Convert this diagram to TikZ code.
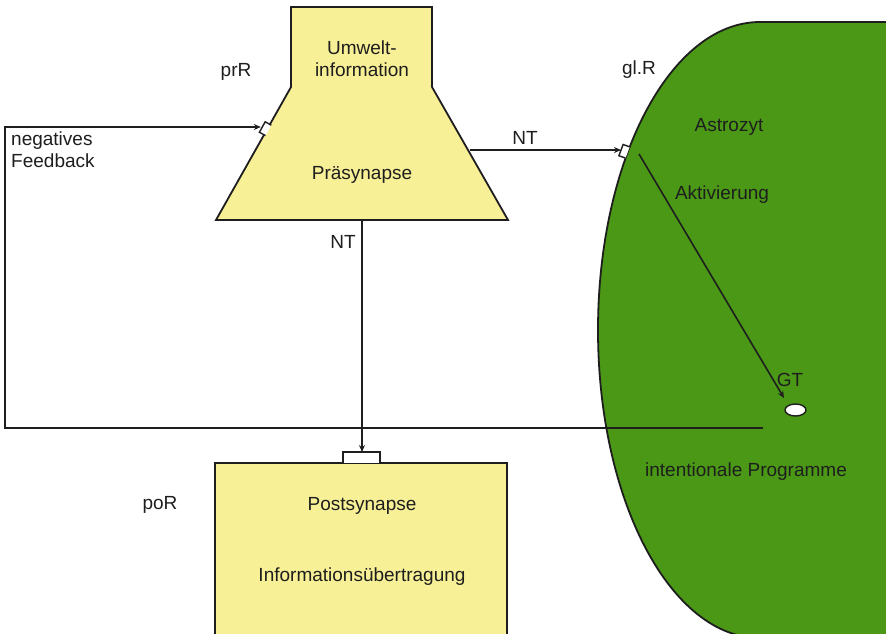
\documentclass[tikz,border=0pt]{standalone}
\usepackage{fontspec}
\setmainfont{Liberation Sans}
\usetikzlibrary{arrows.meta,shapes.geometric}
\definecolor{synyellow}{RGB}{248,240,150}
\definecolor{astrogreen}{RGB}{74,152,22}
\definecolor{ink}{RGB}{30,30,30}
\begin{document}
\begin{tikzpicture}[x=1pt,y=-1pt,
  outline/.style={draw=ink,line width=1.8pt,line join=miter},
  wire/.style={draw=ink,line width=1.6pt},
  arr/.style={wire,-{Stealth[length=7pt,width=6pt]}},
  lbl/.style={text=ink,font=\fontsize{19}{22}\selectfont,inner sep=0pt},
  recep/.style={draw=ink,line width=1.4pt,fill=white}]
\useasboundingbox (0,0) rectangle (886,633);
\clip (0,0) rectangle (886,633);
\fill[white] (0,0) rectangle (886,633);
% astrocyte
\fill[astrogreen] (760,22) arc[start angle=-90,end angle=-270,x radius=162,y radius=308] -- (900,638) -- (900,22) -- cycle;
\draw[outline] (900,22) -- (760,22) arc[start angle=-90,end angle=-270,x radius=162,y radius=308];
% presynapse
\draw[outline,fill=synyellow] (291,7) -- (432,7) -- (432,87) -- (508,220) -- (216,220) -- (291,87) -- cycle;
% postsynapse
\draw[outline,fill=synyellow] (215,640) -- (215,463) -- (507,463) -- (507,640);
% receptors
\draw[recep] (271.3,125.2) -- (265.2,121.8) -- (259.4,132.2) -- (265.5,135.6);
\draw[recep] (629.7,146.9) -- (623.1,144.5) -- (618.9,155.7) -- (625.5,158.1);
\draw[recep] (343,463) -- (343,452) -- (380,452) -- (380,463);
\coordinate (fbend) at (260.8,127);
\coordinate (astroin) at (621,150);
\coordinate (postin) at (362,452);
\coordinate (preout) at (469.5,150);
\coordinate (prebot) at (362,220);
\coordinate (fbstart) at (763,428);
\coordinate (fbcornerA) at (5,428);
\coordinate (fbcornerB) at (5,127);
\coordinate (aktstart) at (639,154);
\node[draw=ink,line width=1.4pt,fill=white,ellipse,minimum width=21pt,minimum height=12pt,inner sep=0pt] (gt) at (795.5,410) {};
\coordinate (aktend) at (784,398);
% connectors
\draw[arr] (preout) -- (astroin);
\draw[arr] (prebot) -- (postin);
\draw[arr] (fbstart) -- (fbcornerA) -- (fbcornerB) -- (fbend);
\draw[arr] (aktstart) -- (aktend);
% labels
\node[lbl,align=center] (umwelt) at (362,59) {Umwelt-\\information};
\node[lbl] (prae) at (362,175) {Präsynapse};
\node[lbl] (prr) at (236,72) {prR};
\node[lbl,align=left,anchor=west] (negfb) at (11,150) {negatives\\Feedback};
\node[lbl] (nt1) at (525,138) {NT};
\node[lbl] (nt2) at (343,242) {NT};
\node[lbl] (glr) at (639,70) {gl.R};
\node[lbl] (astro) at (729,127) {Astrozyt};
\node[lbl] (akt) at (722,195) {Aktivierung};
\node[lbl] (gtl) at (790,380) {GT};
\node[lbl] (intprog) at (746,472) {intentionale Programme};
\node[lbl] (por) at (160,505) {poR};
\node[lbl] (post) at (362,506) {Postsynapse};
\node[lbl] (info) at (362,577) {Informationsübertragung};
\end{tikzpicture}
\end{document}
